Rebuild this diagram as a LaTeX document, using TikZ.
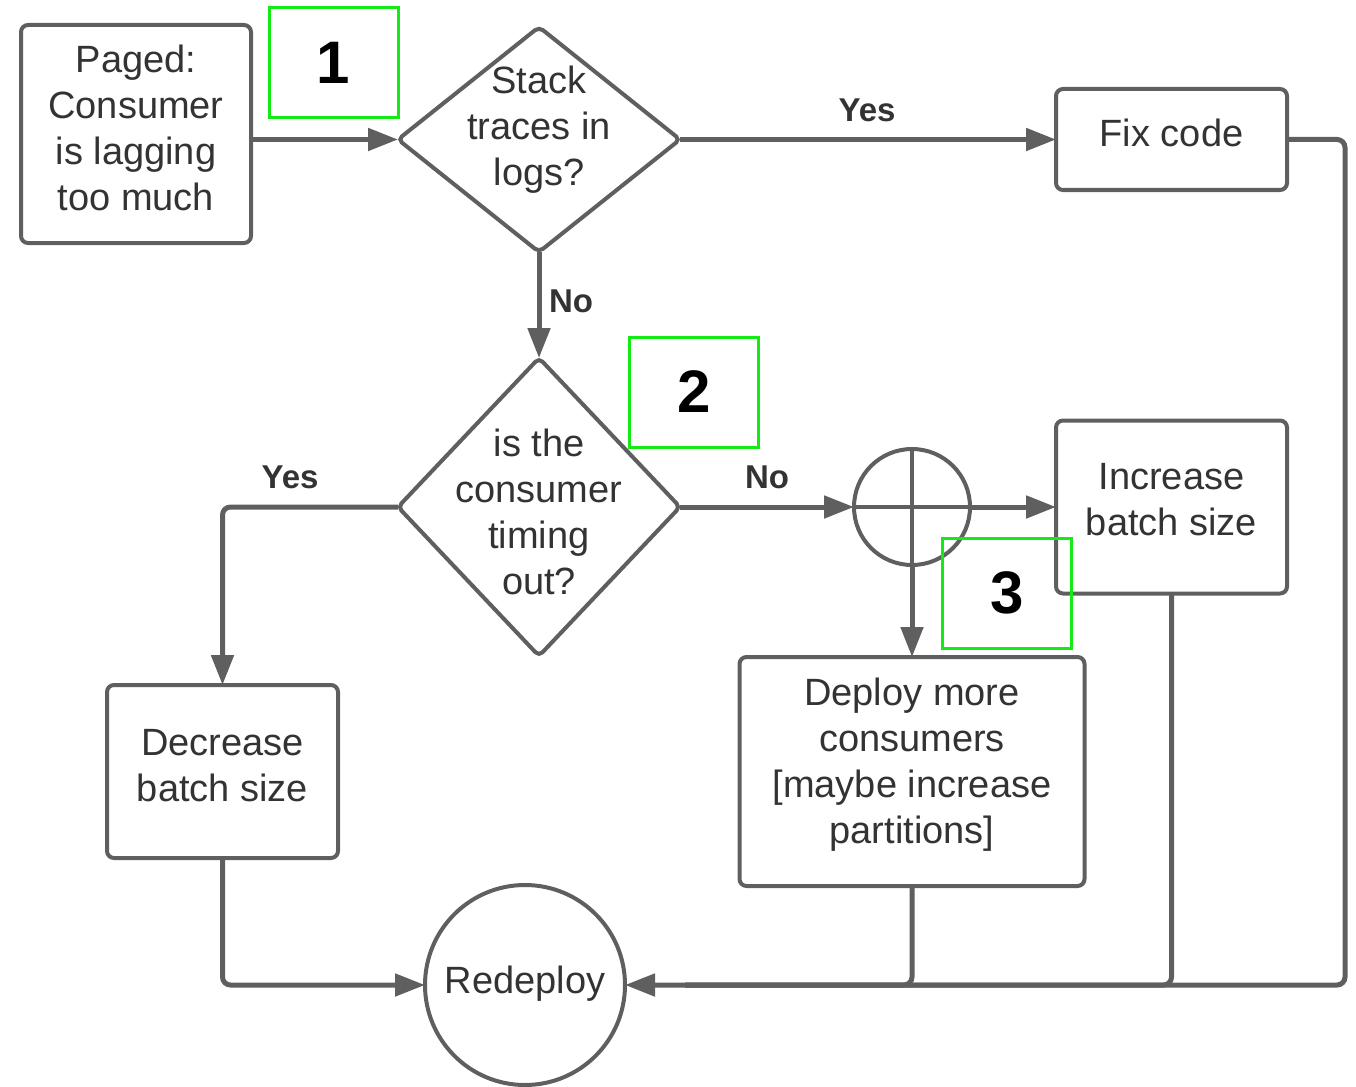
\documentclass[tikz,border=0pt]{standalone}
\usepackage{fontspec}
\setmainfont{Liberation Sans}
\usetikzlibrary{shapes.geometric,arrows.meta}
\definecolor{ln}{HTML}{5F5F5F}
\definecolor{tx}{HTML}{333333}
\definecolor{gr}{HTML}{14EB14}
\begin{document}
\begin{tikzpicture}[x=1pt,y=-1pt,
 box/.style={draw=ln,line width=4pt,rounded corners=7pt,fill=white,text=tx,align=center,font=\fontsize{38}{46}\selectfont,inner sep=0pt,outer sep=0pt},
 diam/.style={diamond,draw=ln,line width=4pt,rounded corners=5pt,fill=white,inner sep=0pt,outer sep=0pt},
 ring/.style={circle,draw=ln,line width=4pt,fill=white,inner sep=0pt,outer sep=0pt},
 txt/.style={text=tx,align=center,font=\fontsize{38}{46}\selectfont},
 lbl/.style={text=tx,font=\fontsize{33}{34}\selectfont\bfseries},
 num/.style={draw=gr,line width=3pt,minimum width=129pt,minimum height=110pt,font=\fontsize{60}{60}\selectfont\bfseries,text=black,inner sep=0pt},
 conn/.style={draw=ln,line width=5pt,rounded corners=8pt},
 arr/.style={conn,-{Triangle[length=30pt,width=22pt]}},
]
\useasboundingbox (0,0) rectangle (1356,1086);

% nodes
\node[box,minimum width=230pt,minimum height=218pt] (paged) at (136,134) {};
\node[txt] (pagedt) at (136,128) {Paged:\\Consumer\\is lagging\\too much};
\node[diam,minimum width=282pt,minimum height=225pt] (d1) at (539,139.5) {};
\node[txt] (d1t) at (539,130) {Stack\\traces in\\logs?};
\node[box,minimum width=231pt,minimum height=101pt] (fix) at (1171.5,139.5) {};
\node[txt] (fixt) at (1171.5,133) {Fix code};
\node[diam,minimum width=282pt,minimum height=298pt] (d2) at (539,507) {};
\node[txt] (d2t) at (539,512) {is the\\consumer\\timing\\out?};
\node[ring,minimum size=116pt] (x) at (912,507) {};
\draw[ln,line width=4pt] (x.north) -- (x.south) (x.west) -- (x.east);
\node[box,minimum width=231pt,minimum height=173pt] (inc) at (1171.5,507) {};
\node[txt] (inct) at (1171.5,500) {Increase\\batch size};
\node[box,minimum width=345pt,minimum height=229pt] (dep) at (912,771.5) {};
\node[txt] (dept) at (912,765) {Deploy more\\consumers\\{[}maybe increase\\partitions{]}};
\node[box,minimum width=231pt,minimum height=173pt] (dec) at (222.5,771.5) {};
\node[txt] (dect) at (222.5,766) {Decrease\\batch size};
\node[ring,minimum size=200pt] (red) at (525,985) {};
\node[txt] (redt) at (525,984) {Redeploy};
\coordinate (rc) at (1345,985);

% connectors
\draw[arr] (paged.east |- d1.west) -- (d1.west);
\draw[arr] (d1.east) -- (fix.west);
\draw[arr] (d1.south) -- (d2.north);
\draw[arr] (d2.west) -| (dec.north);
\draw[arr] (d2.east) -- (x.west);
\draw[arr] (x.east) -- (inc.west);
\draw[arr] (x.south) -- (dep.north);
\draw[arr] (dec.south) |- (red.west);
\draw[conn] (dep.south) |- ([xshift=60pt]red.east);
\draw[conn] (inc.south) |- ([xshift=60pt]red.east);
\draw[arr] (fix.east) -| (rc) -- (red.east);

% labels
\node[lbl] (l1) at (867,110) {Yes};
\node[lbl] (l2) at (571,301) {No};
\node[lbl] (l3) at (290,477) {Yes};
\node[lbl] (l4) at (767,477) {No};

% numbered markers
\node[num] (n1) at (333.5,63) {1};
\node[num] (n2) at (694,392) {2};
\node[num] (n3) at (1007,593) {3};
\end{tikzpicture}
\end{document}
